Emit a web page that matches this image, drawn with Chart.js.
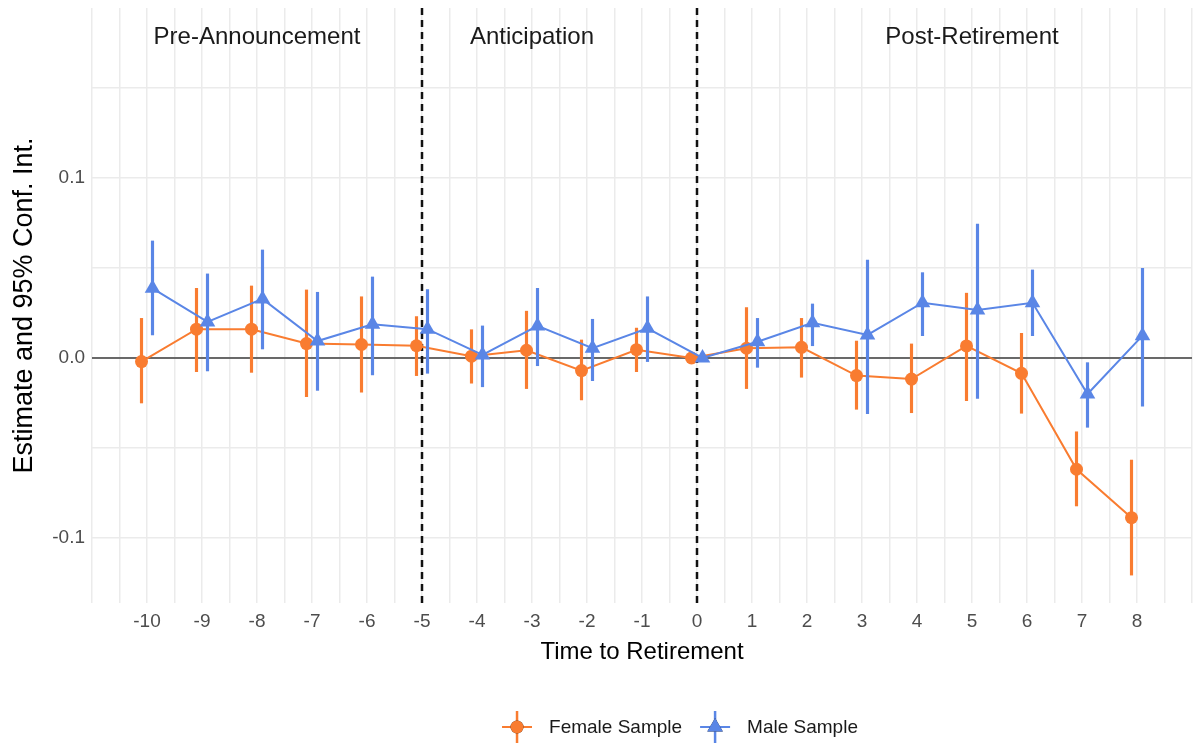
<!DOCTYPE html>
<html>
<head>
<meta charset="utf-8">
<script src="https://cdn.jsdelivr.net/npm/chart.js@4.4.1/dist/chart.umd.min.js"></script>
<style>
  body { margin: 0; background: #fff; }
  canvas { display: block; }
</style>
</head>
<body>
<canvas id="myChart" width="1193" height="744"></canvas>
<script>
// time to retirement (years)
var periods = [-10, -9, -8, -7, -6, -5, -4, -3, -2, -1, 0, 1, 2, 3, 4, 5, 6, 7, 8];

// female sample: estimate and 95% CI
var femaleEst = [-0.002, 0.016, 0.016, 0.008, 0.0075, 0.0068, 0.001, 0.0043, -0.007, 0.0046, 0, 0.0054, 0.0059, -0.0098, -0.0117, 0.0067, -0.0085, -0.0618, -0.0887];
var femaleLo  = [-0.025, -0.0076, -0.008, -0.0215, -0.019, -0.0098, -0.014, -0.017, -0.0233, -0.0076, 0, -0.017, -0.0107, -0.0285, -0.0304, -0.0237, -0.0307, -0.0822, -0.1206];
var femaleHi  = [0.022, 0.0387, 0.040, 0.0378, 0.034, 0.023, 0.0157, 0.026, 0.010, 0.0166, 0, 0.028, 0.022, 0.0094, 0.0078, 0.036, 0.0137, -0.041, -0.0567];

// male sample: estimate and 95% CI
var maleEst = [0.0387, 0.020, 0.0328, 0.0094, 0.0187, 0.016, 0.0017, 0.0178, 0.0054, 0.0165, 0, 0.009, 0.0196, 0.0128, 0.0307, 0.0267, 0.0307, -0.020, 0.0124];
var maleLo  = [0.0128, -0.0072, 0.005, -0.018, -0.0094, -0.0085, -0.016, -0.0043, -0.0126, -0.002, 0, -0.0052, 0.0068, -0.031, 0.0124, -0.0224, 0.0124, -0.0385, -0.0267];
var maleHi  = [0.065, 0.0467, 0.060, 0.0365, 0.045, 0.038, 0.0178, 0.0387, 0.0215, 0.034, 0, 0.022, 0.030, 0.0544, 0.0474, 0.0744, 0.0489, -0.0026, 0.0498];

var seriesNames = ['Female Sample', 'Male Sample'];

// y axis ticks
var yTickValues = [-0.1, 0, 0.1];
var yTickLabels = ['-0.1', '0.0', '0.1'];
var yMinorValues = [-0.05, 0.05, 0.15];

// period markers and labels
var cutoffs = [-5, 0];
var periodLabels = ['Pre-Announcement', 'Anticipation', 'Post-Retirement'];
var periodCenters = [-8, -3, 5];
var periodLabelY = 0.178;

var orange = '#F97C30';
var blue = '#5A86E6';
var dodge = 0.1;
var fontFam = '"Liberation Sans", Arial, Helvetica, sans-serif';

function points(est, shift) {
  return periods.map(function(p, i) { return { x: p + shift, y: est[i] }; });
}
function ranges(lo, hi, shift) {
  return periods.map(function(p, i) { return { x: p + shift, y: [lo[i], hi[i]] }; });
}

var extras = {
  id: 'extras',
  beforeDatasetsDraw: function(chart) {
    var ctx = chart.ctx, xs = chart.scales.x, ys = chart.scales.y, a = chart.chartArea;
    ctx.save();
    var y0 = ys.getPixelForValue(0);
    ctx.strokeStyle = '#3c3c3c';
    ctx.lineWidth = 1.5;
    ctx.beginPath();
    ctx.moveTo(a.left, y0);
    ctx.lineTo(a.right, y0);
    ctx.stroke();

    ctx.strokeStyle = '#111';
    ctx.lineWidth = 2.5;
    ctx.setLineDash([7, 5]);
    cutoffs.forEach(function(c) {
      var px = xs.getPixelForValue(c);
      ctx.beginPath();
      ctx.moveTo(px, a.top);
      ctx.lineTo(px, a.bottom);
      ctx.stroke();
    });
    ctx.restore();
  },
  afterDraw: function(chart) {
    var ctx = chart.ctx, xs = chart.scales.x, ys = chart.scales.y;
    ctx.save();
    ctx.fillStyle = '#1a1a1a';
    ctx.font = '24px ' + fontFam;
    ctx.textAlign = 'center';
    ctx.textBaseline = 'middle';
    periodLabels.forEach(function(t, i) {
      ctx.fillText(t, xs.getPixelForValue(periodCenters[i]), ys.getPixelForValue(periodLabelY));
    });

    // legend
    var colors = [orange, blue];
    var styles = ['circle', 'triangle'];
    ctx.font = '19px ' + fontFam;
    var iconW = 30, textGap = 17, itemGap = 18;
    var total = 0;
    seriesNames.forEach(function(n, i) {
      total += iconW + textGap + ctx.measureText(n).width + (i ? 0 : itemGap);
    });
    var x = 680 - total / 2, cy = 727;
    seriesNames.forEach(function(n, i) {
      var cx = x + iconW / 2;
      ctx.strokeStyle = colors[i];
      ctx.lineWidth = 2;
      ctx.beginPath();
      ctx.moveTo(x, cy);
      ctx.lineTo(x + iconW, cy);
      ctx.stroke();
      ctx.lineWidth = 2.5;
      ctx.beginPath();
      ctx.moveTo(cx, cy - 16);
      ctx.lineTo(cx, cy + 16);
      ctx.stroke();
      Chart.helpers.drawPoint(ctx, { pointStyle: styles[i], radius: i ? 9 : 6.5, borderWidth: 0 }, cx, cy);
      ctx.fillStyle = colors[i];
      ctx.fill();
      ctx.fillStyle = '#1a1a1a';
      ctx.textAlign = 'left';
      ctx.fillText(n, x + iconW + textGap, cy + 1);
      x += iconW + textGap + ctx.measureText(n).width + itemGap;
    });
    ctx.restore();
  }
};

var myChart = document.querySelector('#myChart').getContext('2d');

var chart = new Chart(myChart, {
  type: 'line',
  data: {
    datasets: [{
      type: 'bar',
      label: seriesNames[0] + ' CI',
      data: ranges(femaleLo, femaleHi, -dodge),
      backgroundColor: orange,
      barThickness: 2.5,
      grouped: false,
      borderWidth: 0,
      order: 4
    }, {
      type: 'line',
      label: seriesNames[0],
      data: points(femaleEst, -dodge),
      borderColor: orange,
      backgroundColor: orange,
      borderWidth: 2,
      pointStyle: 'circle',
      pointRadius: 6.5,
      pointBorderWidth: 0,
      tension: 0,
      order: 3
    }, {
      type: 'bar',
      label: seriesNames[1] + ' CI',
      data: ranges(maleLo, maleHi, dodge),
      backgroundColor: blue,
      barThickness: 2.5,
      grouped: false,
      borderWidth: 0,
      order: 2
    }, {
      type: 'line',
      label: seriesNames[1],
      data: points(maleEst, dodge),
      borderColor: blue,
      backgroundColor: blue,
      borderWidth: 2,
      pointStyle: 'triangle',
      pointRadius: 9,
      pointBorderWidth: 0,
      tension: 0,
      order: 1
    }]
  },
  options: {
    responsive: false,
    animation: false,
    devicePixelRatio: 1,
    events: [],
    layout: { autoPadding: false, padding: { top: 8, right: 1, bottom: 77, left: 0 } },
    plugins: {
      legend: { display: false },
      tooltip: { enabled: false }
    },
    scales: {
      x: {
        type: 'linear',
        min: -11,
        max: 9,
        offset: false,
        afterBuildTicks: function(scale) {
          var t = [];
          for (var v = -11; v <= 9.001; v += 0.5) t.push({ value: v });
          scale.ticks = t;
        },
        afterFit: function(scale) {
          scale.height = 64;
          scale.paddingLeft = 0;
          scale.paddingRight = 0;
        },
        grid: { color: '#ebebeb', lineWidth: 1.5, drawTicks: false, offset: false },
        border: { display: false },
        ticks: {
          autoSkip: false,
          maxRotation: 0,
          padding: 7,
          color: '#4d4d4d',
          font: { family: fontFam, size: 19 },
          callback: function(v) {
            return periods.indexOf(v) >= 0 ? String(v) : '';
          }
        },
        title: {
          display: true,
          text: 'Time to Retirement',
          color: '#000',
          font: { family: fontFam, size: 24 },
          padding: { top: 0, bottom: 0 }
        }
      },
      y: {
        type: 'linear',
        min: -0.1361,
        max: 0.1944,
        beginAtZero: false,
        afterBuildTicks: function(scale) {
          scale.ticks = yTickValues.concat(yMinorValues).sort(function(a, b) { return a - b; })
            .map(function(v) { return { value: v }; });
        },
        afterFit: function(scale) {
          scale.width = 92;
          scale.paddingTop = 0;
          scale.paddingBottom = 0;
        },
        grid: { color: '#ebebeb', lineWidth: 1.5, drawTicks: false },
        border: { display: false },
        ticks: {
          padding: 7,
          color: '#4d4d4d',
          font: { family: fontFam, size: 19 },
          callback: function(v) {
            for (var i = 0; i < yTickValues.length; i++) {
              if (Math.abs(v - yTickValues[i]) < 1e-9) return yTickLabels[i];
            }
            return '';
          }
        },
        title: {
          display: true,
          text: 'Estimate and 95% Conf. Int.',
          color: '#000',
          font: { family: fontFam, size: 27 },
          padding: { top: 8, bottom: 0 }
        }
      }
    }
  },
  plugins: [extras]
});
</script>
</body>
</html>
